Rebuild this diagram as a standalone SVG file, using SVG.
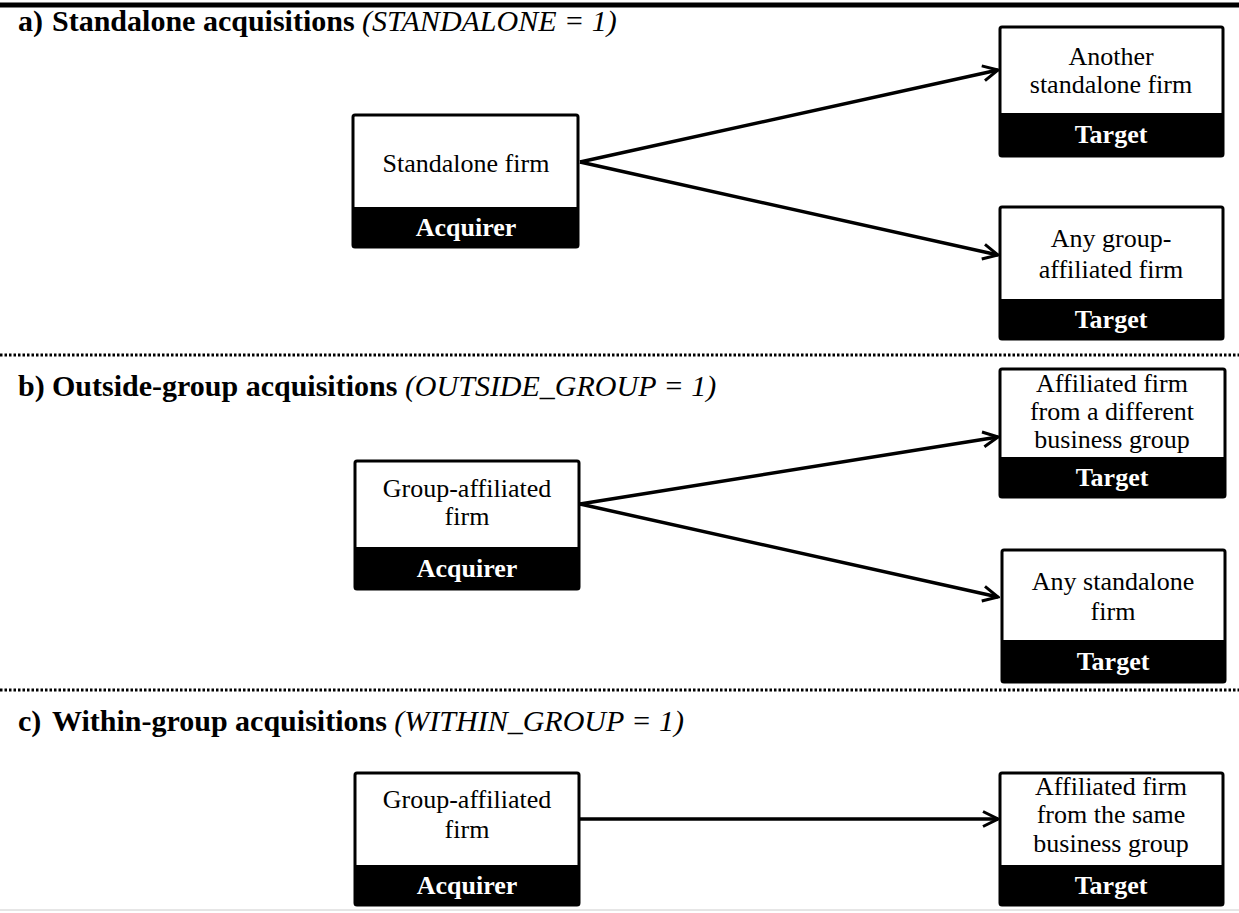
<svg xmlns="http://www.w3.org/2000/svg" width="1239" height="913" viewBox="0 0 1239 913">
<defs>
<style>
.box{fill:#fff;stroke:#000;stroke-width:3}
.band{fill:#000}
.t{font-family:"Liberation Serif","Times New Roman",serif;font-size:26px;text-anchor:middle;fill:#000}
.lbl{font-family:"Liberation Serif","Times New Roman",serif;font-size:26px;font-weight:bold;text-anchor:middle;fill:#fff}
.title{font-family:"Liberation Serif","Times New Roman",serif;font-size:30px;font-weight:bold;fill:#000}
.it{font-weight:normal;font-style:italic}
.conn{stroke:#000;stroke-width:3.5;fill:none;marker-end:url(#arr)}
.sep{stroke:#000;stroke-width:3;stroke-dasharray:2.5 2}
</style>
<marker id="arr" viewBox="0 0 18 18" refX="16" refY="9" markerWidth="18" markerHeight="18" markerUnits="userSpaceOnUse" orient="auto">
<path d="M1,1.5 L16,9 L1,16.5" fill="none" stroke="#000" stroke-width="3"/>
</marker>
</defs>
<rect width="1239" height="913" fill="#fff"/>
<line x1="0" y1="5" x2="1239" y2="5" stroke="#000" stroke-width="5"/>
<line class="sep" x1="0" y1="355" x2="1239" y2="355"/>
<line class="sep" x1="0" y1="690" x2="1239" y2="690"/>
<line x1="0" y1="910" x2="1239" y2="910" stroke="#ccc" stroke-width="1"/>

<g id="titles">
<text class="title" x="18" y="31">a)<tspan x="52">Standalone acquisitions </tspan><tspan class="it">(STANDALONE = 1)</tspan></text>
<text class="title" x="18" y="396">b)<tspan x="52">Outside-group acquisitions </tspan><tspan class="it">(OUTSIDE_GROUP = 1)</tspan></text>
<text class="title" x="18" y="731">c)<tspan x="52">Within-group acquisitions </tspan><tspan class="it">(WITHIN_GROUP = 1)</tspan></text>
</g>

<g id="connectors">
<line class="conn" x1="580" y1="162" x2="998" y2="70"/>
<line class="conn" x1="580" y1="162" x2="998" y2="255"/>
<line class="conn" x1="580" y1="504" x2="998" y2="437"/>
<line class="conn" x1="580" y1="504" x2="998" y2="597"/>
<line class="conn" x1="580" y1="819" x2="998" y2="819"/>
</g>

<g id="a-acquirer">
<rect class="box" x="353" y="115" width="225" height="132" rx="2"/>
<rect class="band" x="353" y="207" width="225" height="40"/>
<text class="t" x="466" y="172">Standalone firm</text>
<text class="lbl" x="466" y="236">Acquirer</text>
</g>
<g id="a-target1">
<rect class="box" x="1000" y="27" width="223" height="129" rx="2"/>
<rect class="band" x="1000" y="113" width="223" height="43"/>
<text class="t" x="1111" y="65">Another</text>
<text class="t" x="1111" y="93">standalone firm</text>
<text class="lbl" x="1111" y="143">Target</text>
</g>
<g id="a-target2">
<rect class="box" x="1000" y="207" width="223" height="132" rx="2"/>
<rect class="band" x="1000" y="299" width="223" height="40"/>
<text class="t" x="1111" y="247">Any group-</text>
<text class="t" x="1111" y="278">affiliated firm</text>
<text class="lbl" x="1111" y="328">Target</text>
</g>

<g id="b-acquirer">
<rect class="box" x="355" y="461" width="224" height="128" rx="2"/>
<rect class="band" x="355" y="547" width="224" height="42"/>
<text class="t" x="467" y="497">Group-affiliated</text>
<text class="t" x="467" y="525">firm</text>
<text class="lbl" x="467" y="577">Acquirer</text>
</g>
<g id="b-target1">
<rect class="box" x="1000" y="369" width="225" height="128" rx="2"/>
<rect class="band" x="1000" y="457" width="225" height="40"/>
<text class="t" x="1112" y="392">Affiliated firm</text>
<text class="t" x="1112" y="420">from a different</text>
<text class="t" x="1112" y="448">business group</text>
<text class="lbl" x="1112" y="486">Target</text>
</g>
<g id="b-target2">
<rect class="box" x="1002" y="550" width="223" height="132" rx="2"/>
<rect class="band" x="1002" y="640" width="223" height="42"/>
<text class="t" x="1113" y="590">Any standalone</text>
<text class="t" x="1113" y="620">firm</text>
<text class="lbl" x="1113" y="670">Target</text>
</g>

<g id="c-acquirer">
<rect class="box" x="355" y="773" width="224" height="132" rx="2"/>
<rect class="band" x="355" y="865" width="224" height="40"/>
<text class="t" x="467" y="808">Group-affiliated</text>
<text class="t" x="467" y="838">firm</text>
<text class="lbl" x="467" y="894">Acquirer</text>
</g>
<g id="c-target">
<rect class="box" x="1000" y="773" width="223" height="132" rx="2"/>
<rect class="band" x="1000" y="865" width="223" height="40"/>
<text class="t" x="1111" y="795">Affiliated firm</text>
<text class="t" x="1111" y="823">from the same</text>
<text class="t" x="1111" y="852">business group</text>
<text class="lbl" x="1111" y="894">Target</text>
</g>
</svg>
